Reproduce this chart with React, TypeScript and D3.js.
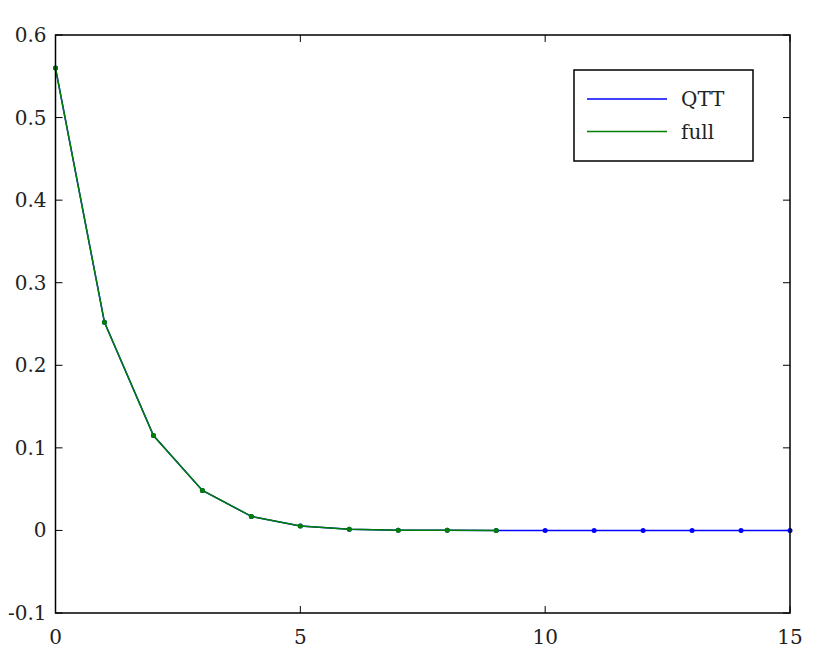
import React from 'react';
import * as d3 from 'd3';

// series values
const qttX = [0, 1, 2, 3, 4, 5, 6, 7, 8, 9, 10, 11, 12, 13, 14, 15];
const qttY = [0.56, 0.252, 0.115, 0.0485, 0.017, 0.0055, 0.0013, 0.0003, 0.0001, 0, 0, 0, 0, 0, 0, 0];
const fullX = [0, 1, 2, 3, 4, 5, 6, 7, 8, 9];
const fullY = [0.56, 0.252, 0.115, 0.0485, 0.017, 0.0055, 0.0013, 0.0003, 0.0001, 0];
const xTicks = [0, 5, 10, 15];
const yTicks = [-0.1, 0, 0.1, 0.2, 0.3, 0.4, 0.5, 0.6];
const legendLabels = ['QTT', 'full'];
const colors = ['#0000ff', '#007f00'];

const W = 830;
const H = 656;
const margin = { top: 35, right: 40, bottom: 43, left: 55.5 };
const font = '"DejaVu Serif", "Liberation Serif", serif';

export default function App() {
  const x = d3.scaleLinear().domain([0, 15]).range([margin.left, W - margin.right]);
  const y = d3.scaleLinear().domain([-0.1, 0.6]).range([H - margin.bottom, margin.top]);

  const line = d3
    .line<[number, number]>()
    .x((d) => x(d[0]))
    .y((d) => y(d[1]));

  const series = [
    { pts: qttX.map((v, i) => [v, qttY[i]] as [number, number]), color: colors[0] },
    { pts: fullX.map((v, i) => [v, fullY[i]] as [number, number]), color: colors[1] },
  ];

  const [x0, x1] = x.range();
  const [y0, y1] = y.range();
  const tick = 7;

  return (
    <svg width={W} height={H} style={{ display: 'block', position: 'absolute', left: 0, top: 0 }}>
      <rect width={W} height={H} fill="white" />
      {/* ticks on all four sides, pointing in */}
      {xTicks.map((t) => (
        <g key={'x' + t}>
          <line x1={x(t)} x2={x(t)} y1={y0} y2={y0 - tick} stroke="black" strokeWidth={1} />
          <line x1={x(t)} x2={x(t)} y1={y1} y2={y1 + tick} stroke="black" strokeWidth={1} />
          <text x={x(t)} y={y0 + 31} textAnchor="middle" fontFamily={font} fontSize={20} fill="#222">
            {t}
          </text>
        </g>
      ))}
      {yTicks.map((t) => (
        <g key={'y' + t}>
          <line x1={x0} x2={x0 + tick} y1={y(t)} y2={y(t)} stroke="black" strokeWidth={1} />
          <line x1={x1} x2={x1 - tick} y1={y(t)} y2={y(t)} stroke="black" strokeWidth={1} />
          <text x={x0 - 9} y={y(t) + 7} textAnchor="end" fontFamily={font} fontSize={20} fill="#222">
            {String(+t.toFixed(1))}
          </text>
        </g>
      ))}
      {series.map((s, i) => (
        <g key={'s' + i}>
          <path d={line(s.pts) ?? ''} fill="none" stroke={s.color} strokeWidth={1.5} />
          {s.pts.map((p, j) => (
            <circle key={j} cx={x(p[0])} cy={y(p[1])} r={2.5} fill={s.color} />
          ))}
        </g>
      ))}
      <rect x={x0} y={y1} width={x1 - x0} height={y0 - y1} fill="none" stroke="black" strokeWidth={1.5} />
      {/* legend */}
      <g transform="translate(574,70)">
        <rect width={179} height={91} fill="white" stroke="black" strokeWidth={1.5} />
        {legendLabels.map((l, i) => (
          <g key={l} transform={`translate(0,${29 + i * 32.5})`}>
            <line x1={13} x2={93} stroke={colors[i]} strokeWidth={1.5} />
            <text x={107} y={7} fontFamily={font} fontSize={20} fill="#222">
              {l}
            </text>
          </g>
        ))}
      </g>
    </svg>
  );
}
